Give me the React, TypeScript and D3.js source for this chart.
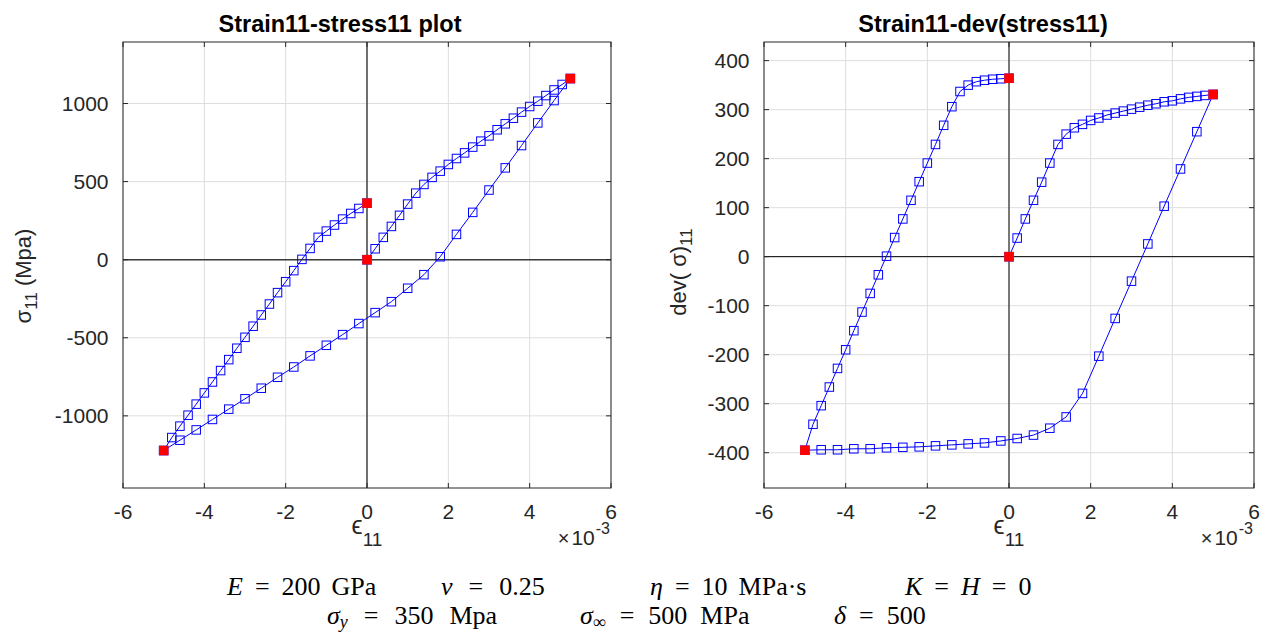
import React from 'react';
import * as d3 from 'd3';

// strain values in units of 1e-3
const strainLoad = [0, 0.2, 0.4, 0.6, 0.8, 1.0, 1.2, 1.4, 1.6, 1.8, 2.0, 2.2, 2.4, 2.6, 2.8, 3.0, 3.2, 3.4, 3.6, 3.8, 4.0, 4.2, 4.4, 4.6, 4.8, 5.0];
const strainUnload = [5.0, 4.6, 4.2, 3.8, 3.4, 3.0, 2.6, 2.2, 1.8, 1.4, 1.0, 0.6, 0.2, -0.2, -0.6, -1.0, -1.4, -1.8, -2.2, -2.6, -3.0, -3.4, -3.8, -4.2, -4.6, -5.0];
const strainReload = [-5.0, -4.8, -4.6, -4.4, -4.2, -4.0, -3.8, -3.6, -3.4, -3.2, -3.0, -2.8, -2.6, -2.4, -2.2, -2.0, -1.8, -1.6, -1.4, -1.2, -1.0, -0.8, -0.6, -0.4, -0.2, 0];

// stress11 (MPa)
const stressLoad = [0, 70, 143, 213, 284, 356, 426, 482, 527, 567, 610, 648, 684, 721, 759, 793, 832, 870, 906, 945, 981, 1015, 1051, 1087, 1122, 1160];
const stressUnload = [1160, 1019, 876, 731, 588, 446, 303, 162, 19, -96, -183, -269, -339, -409, -480, -548, -616, -687, -753, -823, -891, -957, -1023, -1090, -1156, -1222];
const stressReload = [-1222, -1139, -1066, -996, -925, -853, -783, -710, -640, -567, -497, -426, -354, -284, -211, -141, -70, 2, 72, 143, 183, 222, 260, 296, 328, 362];

// dev(stress11) (MPa)
const devLoad = [0, 38, 77, 115, 152, 191, 229, 250, 263, 270, 278, 283, 289, 293, 297, 301, 305, 309, 312, 316, 318, 322, 325, 327, 329, 331];
const devUnload = [331, 255, 179, 103, 26, -50, -126, -203, -279, -327, -350, -364, -371, -376, -380, -382, -384, -386, -388, -389, -390, -392, -392, -394, -394, -395];
const devReload = [-395, -342, -304, -266, -228, -190, -151, -113, -75, -37, 1, 39, 77, 115, 153, 191, 229, 268, 306, 337, 350, 357, 360, 362, 363, 364];

const xTicks = [-6, -4, -2, 0, 2, 4, 6];
const xDomain = [-6, 6];
const leftYTicks = [-1000, -500, 0, 500, 1000];
const leftYDomain = [-1462, 1394];
const rightYTicks = [-400, -300, -200, -100, 0, 100, 200, 300, 400];
const rightYDomain = [-472, 438];

const SANS = "'Liberation Sans', Arial, Helvetica, sans-serif";
const SERIF = "'Liberation Serif', 'Times New Roman', serif";
const AX = '#262626';
const GRID = '#dedede';
const BLUE = '#0000ff';

type Seg = { x: number[]; y: number[] };

function Panel(props: {
  left: number; right: number; top: number; bottom: number;
  yDomain: number[]; yTicks: number[]; segs: Seg[];
  title: string; titleX: number; zeroColor: string; zeroWidth: number;
  ylabel: React.ReactNode;
}) {
  const { left, right, top, bottom, yDomain, yTicks, segs } = props;
  const xs = d3.scaleLinear().domain(xDomain).range([left, right]);
  const ys = d3.scaleLinear().domain(yDomain).range([bottom, top]);
  const pts: [number, number][] = [];
  segs.forEach((s, si) => {
    s.x.forEach((v, i) => {
      if (si > 0 && i === 0) return;
      pts.push([v, s.y[i]]);
    });
  });
  const line = d3.line<[number, number]>().x(d => xs(d[0])).y(d => ys(d[1]));
  const reds: [number, number][] = [[segs[0].x[0], segs[0].y[0]]];
  segs.forEach(s => reds.push([s.x[s.x.length - 1], s.y[s.y.length - 1]]));
  const tl = 5;
  const ms = 8.5;
  const rs = 9.5;
  const cx = (left + right) / 2;
  return (
    <g>
      <rect x={left} y={top} width={right - left} height={bottom - top} fill="#fff" />
      {xTicks.map(t => (
        <line key={'gx' + t} x1={xs(t)} x2={xs(t)} y1={top} y2={bottom} stroke={GRID} strokeWidth={1} />
      ))}
      {yTicks.map(t => (
        <line key={'gy' + t} x1={left} x2={right} y1={ys(t)} y2={ys(t)} stroke={GRID} strokeWidth={1} />
      ))}
      <line x1={xs(0)} x2={xs(0)} y1={top} y2={bottom} stroke={props.zeroColor} strokeWidth={props.zeroWidth} />
      <line x1={left} x2={right} y1={ys(0)} y2={ys(0)} stroke={props.zeroColor} strokeWidth={props.zeroWidth} />
      <path d={line(pts) || ''} fill="none" stroke={BLUE} strokeWidth={1} />
      {pts.map((p, i) => (
        <rect key={'m' + i} x={xs(p[0]) - ms / 2} y={ys(p[1]) - ms / 2} width={ms} height={ms} fill="none" stroke={BLUE} strokeWidth={1} />
      ))}
      {reds.map((p, i) => (
        <g key={'r' + i}>
          <rect x={xs(p[0]) - ms / 2} y={ys(p[1]) - ms / 2} width={ms} height={ms} fill="none" stroke="#6060ff" strokeWidth={1} />
          <rect x={xs(p[0]) - rs / 2} y={ys(p[1]) - rs / 2} width={rs} height={rs} fill="#ff0000" />
        </g>
      ))}
      <rect x={left} y={top} width={right - left} height={bottom - top} fill="none" stroke={AX} strokeWidth={1} />
      {xTicks.map(t => (
        <g key={'tx' + t}>
          <line x1={xs(t)} x2={xs(t)} y1={bottom} y2={bottom - tl} stroke={AX} />
          <line x1={xs(t)} x2={xs(t)} y1={top} y2={top + tl} stroke={AX} />
          <text x={xs(t)} y={519} textAnchor="middle" fontFamily={SANS} fontSize={21} fill={AX}>{String(t)}</text>
        </g>
      ))}
      {yTicks.map(t => (
        <g key={'ty' + t}>
          <line x1={left} x2={left + tl} y1={ys(t)} y2={ys(t)} stroke={AX} />
          <line x1={right} x2={right - tl} y1={ys(t)} y2={ys(t)} stroke={AX} />
          <text x={left - 14.5} y={ys(t)} dy="0.36em" textAnchor="end" fontFamily={SANS} fontSize={21} fill={AX}>{String(t)}</text>
        </g>
      ))}
      <text x={props.titleX} y={32} textAnchor="middle" fontFamily={SANS} fontWeight="bold" fontSize={23.5} fill="#000">{props.title}</text>
      <text x={cx} y={534} textAnchor="middle" fontFamily={SANS} fontSize={25} fill={AX}>
        <tspan>ϵ</tspan><tspan dy={12} fontSize={19}>11</tspan>
      </text>
      <text x={right - 1} y={545} textAnchor="end" fontFamily={SANS} fontSize={21} fill={AX}>
        <tspan fontSize={20}>×</tspan><tspan dx={2}>10</tspan><tspan dx={1} dy={-11} fontSize={16}>-3</tspan>
      </text>
      {props.ylabel}
    </g>
  );
}

type Part = { t: string; it?: boolean; sub?: string; subIt?: boolean; gap?: number };

function Eq(props: { x: number; y: number; parts: Part[] }) {
  const FS = 26;
  const nodes: React.ReactNode[] = [];
  let lowered = 0;
  props.parts.forEach((p, i) => {
    nodes.push(
      <tspan key={i + 'a'} dx={p.gap || 0} dy={-lowered} fontSize={FS} fontStyle={p.it ? 'italic' : 'normal'}>{p.t}</tspan>
    );
    lowered = 0;
    if (p.sub) {
      nodes.push(
        <tspan key={i + 'b'} dy={4} fontSize={18} fontStyle={p.subIt ? 'italic' : 'normal'}>{p.sub}</tspan>
      );
      lowered = 4;
    }
  });
  return (
    <text x={props.x} y={props.y} fontFamily={SERIF} fontSize={FS} fill="#000">{nodes}</text>
  );
}

export default function App() {
  const leftSegs: Seg[] = [
    { x: strainLoad, y: stressLoad },
    { x: strainUnload, y: stressUnload },
    { x: strainReload, y: stressReload },
  ];
  const rightSegs: Seg[] = [
    { x: strainLoad, y: devLoad },
    { x: strainUnload, y: devUnload },
    { x: strainReload, y: devReload },
  ];
  return (
    <svg width={1266} height={633} style={{ position: 'absolute', left: 0, top: 0, background: '#fff' }}>
      <rect x={0} y={0} width={1266} height={633} fill="#fff" />
      <Panel left={123} right={611} top={42} bottom={488} yDomain={leftYDomain} yTicks={leftYTicks}
        segs={leftSegs} title="Strain11-stress11 plot" titleX={340} zeroColor="#3a3a3a" zeroWidth={1.4}
        ylabel={
          <text transform="translate(31,276) rotate(-90)" textAnchor="middle" fontFamily={SANS} fontSize={22} fill={AX}>
            <tspan>σ</tspan><tspan dy={6} fontSize={17}>11</tspan><tspan dy={-6}>{'\u00a0(Mpa)'}</tspan>
          </text>
        } />
      <Panel left={764} right={1254} top={42} bottom={488} yDomain={rightYDomain} yTicks={rightYTicks}
        segs={rightSegs} title="Strain11-dev(stress11)" titleX={983} zeroColor="#000" zeroWidth={1}
        ylabel={
          <text transform="translate(686,272) rotate(-90)" textAnchor="middle" fontFamily={SANS} fontSize={22} fill={AX}>
            <tspan>{'dev(\u00a0σ)'}</tspan><tspan dy={6} fontSize={17}>11</tspan>
          </text>
        } />
      <Eq x={227} y={595} parts={[{ t: 'E', it: true }, { t: '=', gap: 12 }, { t: '200', gap: 12 }, { t: 'GPa', gap: 11 }]} />
      <Eq x={441} y={595} parts={[{ t: 'ν', it: true }, { t: '=', gap: 16 }, { t: '0.25', gap: 16 }]} />
      <Eq x={650} y={595} parts={[{ t: 'η', it: true }, { t: '=', gap: 12 }, { t: '10', gap: 12 }, { t: 'MPa·s', gap: 11 }]} />
      <Eq x={905} y={595} parts={[{ t: 'K', it: true }, { t: '=', gap: 12 }, { t: 'H', it: true, gap: 12 }, { t: '=', gap: 12 }, { t: '0', gap: 12 }]} />
      <Eq x={327} y={624} parts={[{ t: 'σ', it: true, sub: 'y', subIt: true }, { t: '=', gap: 16 }, { t: '350', gap: 16 }, { t: 'Mpa', gap: 16 }]} />
      <Eq x={580} y={624} parts={[{ t: 'σ', it: true, sub: '∞' }, { t: '=', gap: 14 }, { t: '500', gap: 14 }, { t: 'MPa', gap: 13 }]} />
      <Eq x={834} y={624} parts={[{ t: 'δ', it: true }, { t: '=', gap: 13 }, { t: '500', gap: 13 }]} />
    </svg>
  );
}
